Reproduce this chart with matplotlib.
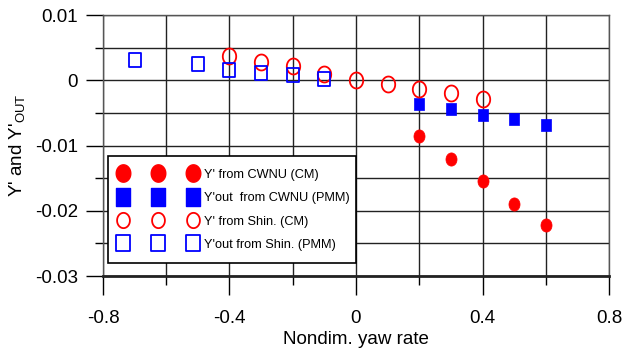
import matplotlib
matplotlib.use("Agg")
import matplotlib.pyplot as plt
from matplotlib.ticker import MultipleLocator, FixedLocator, FuncFormatter
from matplotlib.path import Path
from matplotlib.lines import Line2D
from matplotlib.patches import Rectangle
import numpy as np

plt.rcParams['font.family'] = ['Liberation Sans', 'DejaVu Sans']

# Data
cwnu_cm_x = [0.2, 0.3, 0.4, 0.5, 0.6]
cwnu_cm_y = [-0.0086, -0.0120, -0.0155, -0.0190, -0.0222]
cwnu_pmm_x = [0.2, 0.3, 0.4, 0.5, 0.6]
cwnu_pmm_y = [-0.0036, -0.0044, -0.0053, -0.0060, -0.0069]
shin_cm_x = [-0.4, -0.3, -0.2, -0.1, 0.0, 0.1, 0.2, 0.3, 0.4]
shin_cm_y = [0.0037, 0.0028, 0.0022, 0.0009, 0.0000, -0.0006, -0.0014, -0.0020, -0.0029]
shin_pmm_x = [-0.7, -0.5, -0.4, -0.3, -0.2, -0.1]
shin_pmm_y = [0.0031, 0.0025, 0.0015, 0.0011, 0.0008, 0.0002]

labels = ["Y' from CWNU (CM)", "Y'out  from CWNU (PMM)",
          "Y' from Shin. (CM)", "Y'out from Shin. (PMM)"]

# slightly tall markers (as in the reference)
t = np.linspace(0, 2 * np.pi, 61)
ellipse = Path(np.column_stack([0.42 * np.cos(t), 0.5 * np.sin(t)]), closed=True)
rect = Path([(-0.42, -0.5), (0.42, -0.5), (0.42, 0.5), (-0.42, 0.5), (-0.42, -0.5)], closed=True)

fig = plt.figure(figsize=(6.24, 3.53), dpi=100)
ax = fig.add_axes([0.165, 0.218, 0.811, 0.7395])

ax.plot(cwnu_cm_x, cwnu_cm_y, ls='none', marker=ellipse, color='red', ms=9.5, mec='red', mew=0.5, zorder=3)
ax.plot(cwnu_pmm_x, cwnu_pmm_y, ls='none', marker=rect, color='blue', ms=9.0, mec='blue', mew=0.5, zorder=3)
ax.plot(shin_cm_x, shin_cm_y, ls='none', marker=ellipse, mfc='none', mec='red', mew=1.3, ms=11.5, zorder=3)
ax.plot(shin_pmm_x, shin_pmm_y, ls='none', marker=rect, mfc='none', mec='blue', mew=1.3, ms=9.5, zorder=3)

ax.set_xlim(-0.8, 0.8)
ax.set_ylim(-0.03, 0.01)
ax.xaxis.set_major_locator(MultipleLocator(0.4))
ax.xaxis.set_minor_locator(FixedLocator([-0.6, -0.2, 0.2, 0.6]))
ax.yaxis.set_major_locator(MultipleLocator(0.01))
ax.yaxis.set_minor_locator(FixedLocator([0.005, -0.005, -0.015, -0.025]))

def xfmt(v, pos):
    return '0' if abs(v) < 1e-9 else ('%.1f' % v)

def yfmt(v, pos):
    return '0' if abs(v) < 1e-9 else ('%.2f' % v)

ax.xaxis.set_major_formatter(FuncFormatter(xfmt))
ax.yaxis.set_major_formatter(FuncFormatter(yfmt))
ax.tick_params(axis='x', which='major', direction='out', length=13.5, width=1, color='black', labelsize=13.5, pad=11)
ax.tick_params(axis='x', which='minor', direction='out', length=6.5, width=1, color='black')
ax.tick_params(axis='y', which='major', direction='out', length=12, width=1, color='black', labelsize=13.5, pad=6)
ax.tick_params(axis='y', which='minor', direction='out', length=5.5, width=1, color='black')
ax.grid(True, which='both', color='#222222', linewidth=1)
ax.set_axisbelow(True)

for s in ['top', 'right', 'left']:
    ax.spines[s].set_color('#555555')
    ax.spines[s].set_linewidth(1)
ax.spines['bottom'].set_linewidth(2)
ax.spines['bottom'].set_color('#222222')

ax.set_xlabel('Nondim. yaw rate', fontsize=13.5, labelpad=3)
ax.set_ylabel("Y' and Y'$\\mathregular{_{OUT}}$", fontsize=13.5, labelpad=6)

# legend box
ax.add_patch(Rectangle((0.0099, 0.0498), 0.4901, 0.41, transform=ax.transAxes,
                       facecolor='white', edgecolor='black', linewidth=1.2, zorder=4.5))

handles = [
    Line2D([], [], ls='none', marker=ellipse, color='red', mec='red', ms=12.5),
    Line2D([], [], ls='none', marker=rect, color='blue', mec='blue', ms=12.5),
    Line2D([], [], ls='none', marker=ellipse, mfc='none', mec='red', mew=1.3, ms=11),
    Line2D([], [], ls='none', marker=rect, mfc='none', mec='blue', mew=1.3, ms=11.5),
]
leg = ax.legend(handles, labels, loc='upper left', bbox_to_anchor=(0.0316, 0.412), numpoints=3,
                fontsize=9.2, frameon=False, handlelength=6.07, handletextpad=0.6,
                handleheight=0.9, labelspacing=0.82, borderpad=0, borderaxespad=0)
leg.set_zorder(5)

fig.savefig('out.png', dpi=100)
